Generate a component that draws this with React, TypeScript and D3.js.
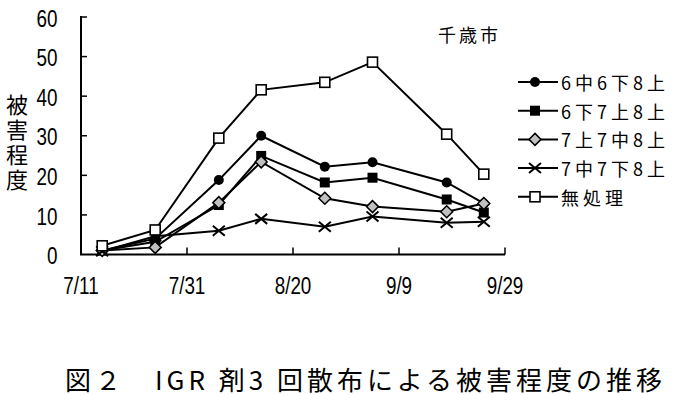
import React from "react";
import * as d3 from "d3";

const dates = ["7/15", "7/25", "8/6", "8/14", "8/26", "9/4", "9/18", "9/25"];
const s1 = [1.0, 4.0, 18.8, 30.0, 22.2, 23.3, 18.2, 12.9]; // 6中6下8上
const s2 = [1.0, 3.2, 12.5, 24.9, 18.2, 19.4, 13.9, 10.6]; // 6下7上8上
const s3 = [1.0, 1.8, 13.1, 23.4, 14.2, 12.1, 10.8, 12.9]; // 7上7中8上
const s4 = [0.8, 4.6, 6.0, 9.0, 7.0, 9.6, 8.0, 8.3]; // 7中7下8上
const s5 = [2.2, 6.2, 29.4, 41.6, 43.5, 48.6, 30.4, 20.3]; // 無処理
const seriesNames = ["6中6下8上", "6下7上8上", "7上7中8上", "7中7下8上", "無処理"];
const seriesMarkers = ["circle", "square", "diamond", "x", "open"];
const xTickLabels = ["7/11", "7/31", "8/20", "9/9", "9/29"];
const yTicks = [0, 10, 20, 30, 40, 50, 60];
const yTitle = "被害程度";
const placeLabel = "千歳市";
const caption = "図２　IGR 剤3 回散布による被害程度の推移";

const parse = d3.timeParse("%m/%d");

const W = 690;
const H = 395;
const left = 81;
const right = 505;
const top = 17;
const bottom = 254.5;

const x = d3.scaleTime().domain([parse("7/11")!, parse("9/29")!]).range([left, right]);
const y = d3.scaleLinear().domain([0, 60]).range([bottom, top]);

const numFont = "'Liberation Sans', Arial, sans-serif";
const jpFont = "'Noto Sans CJK JP', 'Noto Sans CJK SC', sans-serif";

function Marker({ kind, cx, cy }: { kind: string; cx: number; cy: number }) {
  if (kind === "circle") return <circle cx={cx} cy={cy} r={5} fill="#000" />;
  if (kind === "square") return <rect x={cx - 5} y={cy - 5} width={10} height={10} fill="#000" />;
  if (kind === "diamond")
    return (
      <path
        d={`M${cx},${cy - 6}L${cx + 6},${cy}L${cx},${cy + 6}L${cx - 6},${cy}Z`}
        fill="#c0c0c0"
        stroke="#000"
        strokeWidth={1.5}
      />
    );
  if (kind === "x")
    return (
      <path
        d={`M${cx - 6},${cy - 5}L${cx + 6},${cy + 5}M${cx - 6},${cy + 5}L${cx + 6},${cy - 5}`}
        stroke="#000"
        strokeWidth={2}
        fill="none"
      />
    );
  return <rect x={cx - 5} y={cy - 5} width={10} height={10} fill="#fff" stroke="#000" strokeWidth={1.6} />;
}

export default function App() {
  const series = [s1, s2, s3, s4, s5];
  const line = d3
    .line<number>()
    .x((_, i) => x(parse(dates[i])!))
    .y((d) => y(d));
  const legendY = (i: number) => 82 + i * 28.7;

  return (
    <svg
      width={W}
      height={H}
      style={{ position: "absolute", left: 0, top: 0, background: "#fff" }}
      xmlns="http://www.w3.org/2000/svg"
    >
      <rect x={0} y={0} width={W} height={H} fill="#fff" />
      {/* axes */}
      <line x1={left} y1={top - 1} x2={left} y2={bottom} stroke="#000" strokeWidth={2} />
      <line x1={left - 1} y1={bottom} x2={right} y2={bottom} stroke="#000" strokeWidth={2} />
      {yTicks.slice(1).map((t) => (
        <line key={"yt" + t} x1={left} x2={left + 6} y1={y(t)} y2={y(t)} stroke="#000" strokeWidth={1.5} />
      ))}
      {yTicks.map((t) => (
        <text
          key={"yl" + t}
          transform={`translate(57.5,${y(t) + 1.5}) scale(0.82,1)`}
          textAnchor="end"
          dominantBaseline="central"
          fontFamily={numFont}
          fontSize={23}
          fill="#000"
        >
          {t}
        </text>
      ))}
      {xTickLabels.map((lab, i) => {
        const px = x(parse(lab)!);
        return (
          <g key={"xt" + lab}>
            {i > 0 && <line x1={px} x2={px} y1={bottom} y2={bottom - 7} stroke="#000" strokeWidth={1.5} />}
            <text
              transform={`translate(${px},${285.5}) scale(0.82,1)`}
              textAnchor="middle"
              dominantBaseline="central"
              fontFamily={numFont}
              fontSize={23}
              fill="#000"
            >
              {lab}
            </text>
          </g>
        );
      })}
      {/* y title (vertical) */}
      <text
        x={17}
        y={94}
        writingMode="vertical-rl"
        style={{ writingMode: "vertical-rl" } as any}
        fontFamily={jpFont}
        fontSize={22}
        letterSpacing={3}
        fill="#000"
      >
        {yTitle}
      </text>
      {/* series */}
      {series.map((vals, si) => (
        <g key={"s" + si}>
          <path d={line(vals) || ""} fill="none" stroke="#000" strokeWidth={2} />
          {vals.map((v, i) => (
            <Marker key={i} kind={seriesMarkers[si]} cx={x(parse(dates[i])!)} cy={y(v)} />
          ))}
        </g>
      ))}
      {/* place label */}
      <text
        x={438}
        y={33.5}
        dominantBaseline="central"
        fontFamily={jpFont}
        fontSize={18}
        letterSpacing={3}
        fill="#000"
      >
        {placeLabel}
      </text>
      {/* legend */}
      {seriesNames.map((name, i) => (
        <g key={"lg" + i}>
          <line x1={518} x2={558} y1={legendY(i)} y2={legendY(i)} stroke="#000" strokeWidth={2} />
          <Marker kind={seriesMarkers[i]} cx={535} cy={legendY(i)} />
          <text
            x={561}
            y={legendY(i)}
            dominantBaseline="central"
            fontFamily={jpFont}
            fontSize={18}
            letterSpacing={4}
            fill="#000"
          >
            {name}
          </text>
        </g>
      ))}
      {/* caption */}
      <text
        x={65}
        y={378}
        dominantBaseline="central"
        fontFamily={jpFont}
        fontSize={26}
        textLength={597}
        lengthAdjust="spacing"
        fill="#000"
      >
        {caption}
      </text>
    </svg>
  );
}
